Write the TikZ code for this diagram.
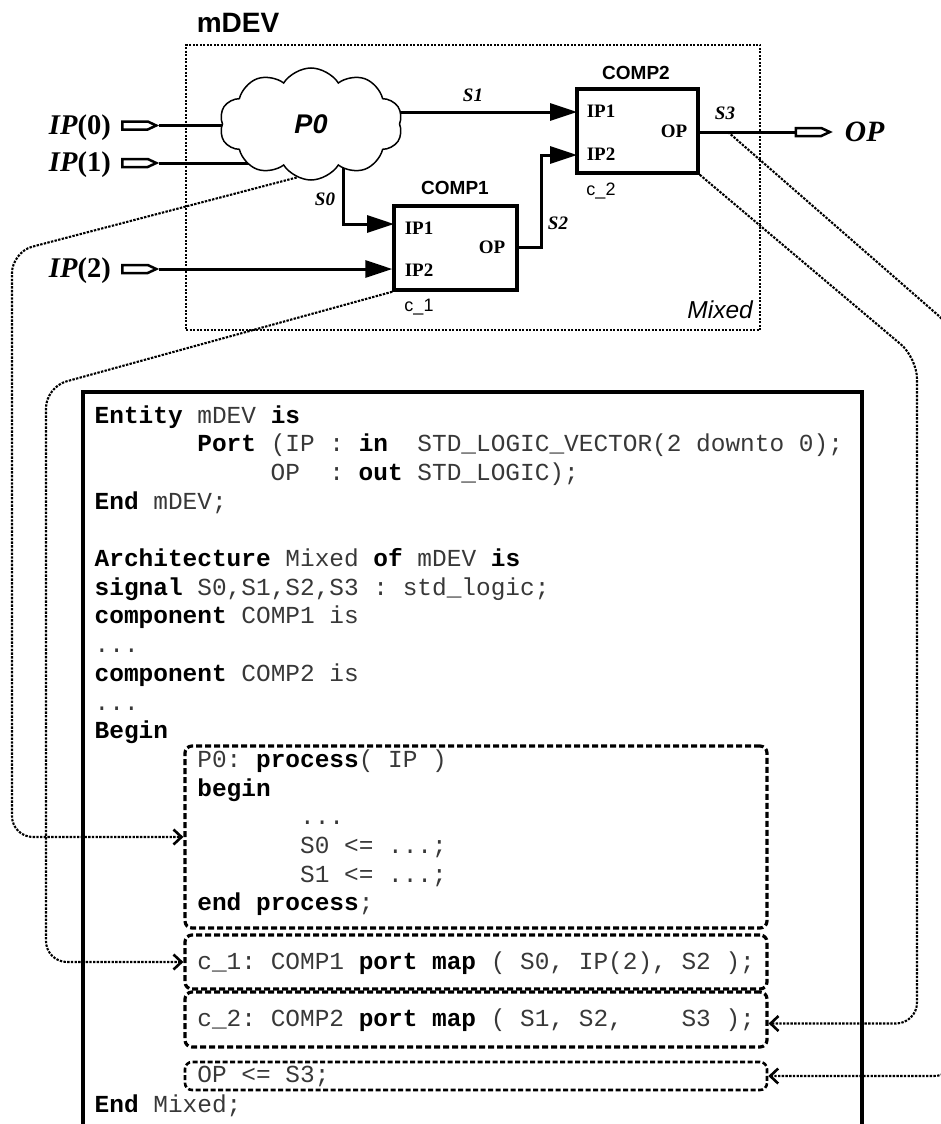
\documentclass[tikz,border=0pt]{standalone}
\usepackage{fontspec}
\setmainfont{Liberation Serif}
\newfontfamily\sansf{Liberation Sans}
\newfontfamily\monof{Liberation Mono}
\usetikzlibrary{arrows.meta,shapes.symbols,backgrounds}
\newcommand\kw[1]{\textbf{\color{black}#1}}
\tikzset{
  wire/.style={line width=3pt},
  sig/.style={line width=3pt,-{Triangle[length=27pt,width=17pt]}},
  comp/.style={draw,line width=3.5pt,fill=white,inner sep=0pt},
  portsym/.style={signal,signal to=east,signal pointer angle=50,draw,line width=2.5pt,fill=white,minimum width=34pt,minimum height=8pt,inner sep=0pt},
  link/.style={line width=2.1pt,dash pattern=on 2.4pt off 1.3pt,rounded corners=21pt,-{Straight Barb[length=8pt,width=15pt,line width=2.6pt]}},
  dbox/.style={draw,line width=3.2pt,dash pattern=on 6pt off 3pt,rounded corners=7pt,inner sep=0pt,minimum width=582pt},
  code/.style={anchor=base west,inner sep=0pt,font=\monof\fontsize{24.45}{28}\selectfont\frenchspacing,text=black!78},
  iplab/.style={anchor=east,inner sep=0pt,font=\fontsize{28.5}{28.5}\selectfont},
  pinlab/.style={inner sep=0pt,font=\bfseries\fontsize{19}{19}\selectfont},
  siglab/.style={inner sep=0pt,font=\bfseries\itshape\fontsize{19}{19}\selectfont},
  boxlab/.style={inner sep=0pt,font=\sansf\bfseries\fontsize{19}{19}\selectfont},
  instlab/.style={inner sep=0pt,font=\sansf\fontsize{18}{18}\selectfont},
}
\begin{document}
\begin{tikzpicture}[x=1pt,y=-1pt]
\path[use as bounding box,clip] (0,0) rectangle (941,1124);

% ---------- top: mDEV schematic ----------
\node[draw,line width=1.4pt,dash pattern=on 2pt off 1.5pt,minimum width=574pt,minimum height=285pt,inner sep=0pt] (mdev) at (473,187.5) {};
\node[inner sep=0pt,font=\sansf\bfseries\fontsize{28}{28}\selectfont] (mdevt) at (238,23) {mDEV};
\node[inner sep=0pt,font=\sansf\itshape\fontsize{24.5}{24.5}\selectfont,anchor=east] (mixt) at (753,310) {Mixed};

\node[cloud,cloud puffs=10,cloud puff arc=115,cloud ignores aspect,draw,line width=1.5pt,fill=white,
      minimum width=183pt,minimum height=112pt,inner sep=0pt,
      font=\sansf\bfseries\itshape\fontsize{27}{27}\selectfont] (p0) at (311,124) {P0};

\node[portsym] (port0) at (135,125.5) {};
\node[portsym] (port1) at (135,163) {};
\node[portsym] (port2) at (135,269) {};
\node[portsym] (portop) at (808.5,132) {};

\node[iplab] (lip0) at ([xshift=-10pt,yshift=-2pt]port0.west) {\textbf{\textit{IP}}\textbf{(0)}};
\node[iplab] (lip1) at ([xshift=-10pt,yshift=-2pt]port1.west) {\textbf{\textit{IP}}\textbf{(1)}};
\node[iplab] (lip2) at ([xshift=-10pt,yshift=-2pt]port2.west) {\textbf{\textit{IP}}\textbf{(2)}};
\node[anchor=west,inner sep=0pt,font=\bfseries\itshape\fontsize{29.5}{29.5}\selectfont] (lop) at ([xshift=12pt]portop.east) {OP};

\node[comp,minimum width=123pt,minimum height=84pt] (comp1) at (455.5,248) {};
\node[comp,minimum width=121pt,minimum height=84pt] (comp2) at (637.5,131) {};

\node[boxlab] (comp1t) at (455,188) {COMP1};
\node[boxlab] (comp2t) at (636,73) {COMP2};
\node[instlab] (c1t) at (419,307) {c\_1};
\node[instlab] (c2t) at (601,191) {c\_2};

\node[pinlab] (c1ip1) at (419,228) {IP1};
\node[pinlab] (c1ip2) at (419,270) {IP2};
\node[pinlab] (c1op) at (492,247) {OP};
\node[pinlab] (c2ip1) at (601,111) {IP1};
\node[pinlab] (c2ip2) at (601,154) {IP2};
\node[pinlab] (c2op) at (674,131) {OP};

\node[siglab] (s0t) at (325,199) {S0};
\node[siglab] (s1t) at (473,95) {S1};
\node[siglab] (s2t) at (558,223) {S2};
\node[siglab] (s3t) at (725,113) {S3};

\coordinate (c1in1) at (394,224);
\coordinate (c1out) at (517,247);
\coordinate (c2in1) at (577,112);
\coordinate (c2in2) at (577,155);
\coordinate (c2out) at (698,132);
\coordinate (s0c) at (343,224);
\coordinate (s2c) at (541,247);
\coordinate (s3tap) at (728,132);

\begin{scope}[on background layer]
  \draw[wire] (port0.east) -- (port0.east -| p0.center);
  \draw[wire] (port1.east) -- (port1.east -| p0.center);
  \draw[sig] (port2.east) -- (port2.east -| comp1.west);
  \draw[sig] (c2in1 -| p0.center) -- (c2in1);
  \draw[sig] (s0c |- p0.center) -- (s0c) -- (c1in1);
  \draw[sig] (c1out) -- (s2c) -- (s2c |- c2in2) -- (c2in2);
  \draw[wire] (c2out) -- (portop.west);
\end{scope}

% ---------- code box ----------
\draw[line width=3.2pt] (83,1130) -- (83,392) -- (862,392) -- (862,1130);

\node[dbox,minimum height=182pt] (pbox) at (476,837) {};
\node[dbox,minimum height=54pt] (c1box) at (476,962) {};
\node[dbox,minimum height=55pt] (c2box) at (476,1019.5) {};
\node[dbox,line width=2.6pt,dash pattern=on 5pt off 2.5pt,minimum height=28pt] (opbox) at (476,1076) {};

\node[code] (l1) at (94.5,423) {\kw{Entity} mDEV \kw{is}};
\node[code] (l2) at (197.2,451.7) {\kw{Port} (IP : \kw{in}\ \ STD\_LOGIC\_VECTOR(2 downto 0);};
\node[code] (l3) at (270.5,480.4) {OP\ \ : \kw{out} STD\_LOGIC);};
\node[code] (l4) at (94.5,509.1) {\kw{End} mDEV;};
\node[code] (l5) at (94.5,566.5) {\kw{Architecture} Mixed \kw{of} mDEV \kw{is}};
\node[code] (l6) at (94.5,595.2) {\kw{signal} S0,S1,S2,S3 : std\_logic;};
\node[code] (l7) at (94.5,623.9) {\kw{component} COMP1 is};
\node[code] (l8) at (94.5,652.6) {...};
\node[code] (l9) at (94.5,681.3) {\kw{component} COMP2 is};
\node[code] (l10) at (94.5,710) {...};
\node[code] (l11) at (94.5,738.7) {\kw{Begin}};
\node[code] (l12) at (197.2,767.4) {P0: \kw{process}( IP )};
\node[code] (l13) at (197.2,796.1) {\kw{begin}};
\node[code] (l14) at (299.9,824.8) {...};
\node[code] (l15) at (299.9,853.5) {S0 <= ...;};
\node[code] (l16) at (299.9,882.2) {S1 <= ...;};
\node[code] (l17) at (197.2,910.9) {\kw{end process};};
\node[code] (l18) at (197.2,969.5) {c\_1: COMP1 \kw{port map} ( S0, IP(2), S2 );};
\node[code] (l19) at (197.2,1026.5) {c\_2: COMP2 \kw{port map} ( S1, S2,\ \ \ \ S3 );};
\node[code] (l20) at (197.2,1082) {OP <= S3;};
\node[code] (l21) at (94.5,1112.5) {\kw{End} Mixed;};

% ---------- dotted links ----------
\draw[link] (p0.255) -- (12,252) |- (pbox.west);
\draw[link] (comp1.south west) -- (46,387) |- (c1box.west);
\draw[link] (comp2.south east) -- (917,358) |- ([yshift=-4pt]c2box.east);
\draw[link] (s3tap) -- (955,330) |- (opbox.east);
\end{tikzpicture}
\end{document}
